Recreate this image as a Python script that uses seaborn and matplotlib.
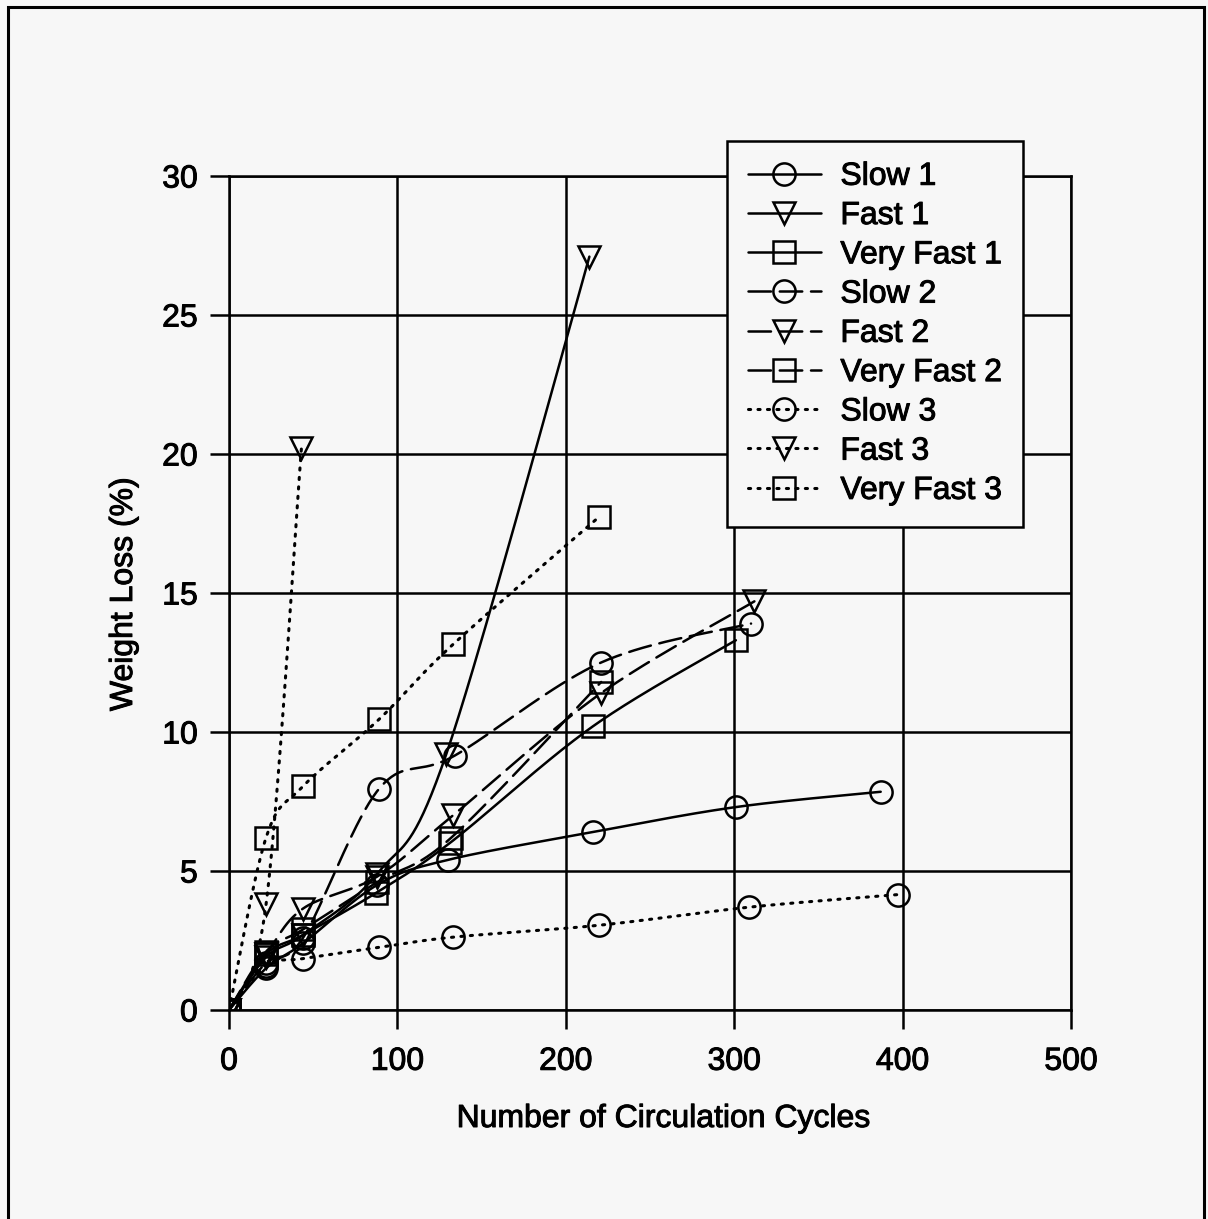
import numpy as np
import matplotlib
matplotlib.use("Agg")
import matplotlib.pyplot as plt
import matplotlib.patheffects as pe
from matplotlib.lines import Line2D
from matplotlib.patches import Rectangle
import seaborn as sns

# ---- data: weight loss (%) against number of circulation cycles ----
slow1_x = [0, 22, 44, 88, 130, 216, 301, 387]
slow1_y = [0, 1.5, 2.4, 4.5, 5.4, 6.4, 7.3, 7.85]

fast1_x = [0, 22, 44, 88, 129, 214]
fast1_y = [0, 1.9, 2.7, 4.9, 9.2, 27.1]

vfast1_x = [0, 22, 44, 87, 131, 216, 301]
vfast1_y = [0, 2.0, 2.7, 4.2, 6.0, 10.2, 13.3]

slow2_x = [0, 22, 44, 89, 134, 221, 310]
slow2_y = [0, 1.7, 2.6, 7.95, 9.15, 12.5, 13.9]

fast2_x = [0, 22, 44, 88, 133, 221, 312]
fast2_y = [0, 2.0, 3.65, 4.8, 7.0, 11.4, 14.7]

vfast2_x = [0, 22, 44, 88, 132, 221]
vfast2_y = [0, 2.1, 2.9, 4.6, 6.2, 11.8]

slow3_x = [0, 22, 44, 89, 133, 220, 309, 397]
slow3_y = [0, 1.6, 1.85, 2.25, 2.62, 3.05, 3.7, 4.15]

fast3_x = [0, 22, 43]
fast3_y = [0, 3.8, 20.2]

vfast3_x = [0, 22, 44, 89, 133, 220]
vfast3_y = [0, 6.2, 8.05, 10.45, 13.15, 17.75]

labels = ["Slow 1", "Fast 1", "Very Fast 1",
          "Slow 2", "Fast 2", "Very Fast 2",
          "Slow 3", "Fast 3", "Very Fast 3"]
xs = [slow1_x, fast1_x, vfast1_x, slow2_x, fast2_x, vfast2_x, slow3_x, fast3_x, vfast3_x]
ys = [slow1_y, fast1_y, vfast1_y, slow2_y, fast2_y, vfast2_y, slow3_y, fast3_y, vfast3_y]
markers = ["o", "v", "s"] * 3

SOLID = "-"
DASHED = (0, (9, 3.5))
DOTTED = (0, (0.7, 2.4))
styles = [SOLID] * 3 + [DASHED] * 3 + [DOTTED] * 3

x_ticks = [0, 100, 200, 300, 400, 500]
y_ticks = [0, 5, 10, 15, 20, 25, 30]


def smooth(x, y, n=40):
    """Bezier smoothing through every point (1/6 tangent factor)."""
    p = np.column_stack([x, y]).astype(float)
    if len(p) < 3:
        return p[:, 0], p[:, 1]
    ext = np.vstack([p[0], p, p[-1]])
    out = []
    t = np.linspace(0, 1, n)[:, None]
    for i in range(len(p) - 1):
        p0, p1, p2, p3 = ext[i], ext[i + 1], ext[i + 2], ext[i + 3]
        c1 = p1 + (p2 - p0) / 6.0
        c2 = p2 - (p3 - p1) / 6.0
        seg = ((1 - t) ** 3) * p1 + 3 * ((1 - t) ** 2) * t * c1 \
            + 3 * (1 - t) * t ** 2 * c2 + t ** 3 * p2
        out.append(seg if i == 0 else seg[1:])
    out = np.vstack(out)
    return out[:, 0], out[:, 1]


sns.set_theme(style="white")
BG = "#f7f7f7"
plt.rcParams["font.family"] = ["Liberation Sans", "DejaVu Sans"]
plt.rcParams["text.color"] = "black"

fig = plt.figure(figsize=(12.08, 12.19), dpi=100, facecolor=BG)
ax = fig.add_axes([229 / 1208, 1 - 1010 / 1219, 842 / 1208, 834 / 1219])
ax.set_facecolor(BG)

MS = 16
MEW = 1.8
LW = 1.8

handles = []
for lab, x, y, m, ls in zip(labels, xs, ys, markers, styles):
    sx, sy = smooth(x, y)
    lw = 2.2 if ls is DOTTED else LW
    sns.lineplot(x=sx, y=sy, ax=ax, color="black", linewidth=lw,
                 linestyle=ls, sort=False, estimator=None,
                 dash_capstyle="round", zorder=3)
    sns.lineplot(x=x, y=y, ax=ax, color="black", linestyle="",
                 marker=m, markersize=MS, markerfacecolor="none",
                 markeredgecolor="black", markeredgewidth=MEW,
                 sort=False, estimator=None, zorder=4)
    handles.append(Line2D([], [], color="black", linewidth=lw, linestyle=ls,
                          marker=m, markersize=MS, markerfacecolor="none",
                          markeredgecolor="black", markeredgewidth=MEW,
                          dash_capstyle="round"))

ax.set_xlim(0, 500)
ax.set_ylim(0, 30)
ax.set_xticks(x_ticks)
ax.set_yticks(y_ticks)
ax.grid(True, color="black", linewidth=1.8)
ax.set_axisbelow(True)
for s in ax.spines.values():
    s.set_color("black")
    s.set_linewidth(1.8)
ax.tick_params(axis="both", direction="out", length=13.5, width=1.8,
               color="black", labelsize=23, labelcolor="black", pad=9,
               bottom=True, left=True)
ax.tick_params(axis="x", pad=13)

ax.set_xlabel("Number of Circulation Cycles", fontsize=23, color="black")
ax.set_ylabel("Weight Loss (%)", fontsize=23, color="black")
ax.xaxis.set_label_coords((664 - 229) / 842, (1010 - 1104) / 834)
ax.yaxis.set_label_coords((139 - 229) / 842, (1010 - 594) / 834)

leg = ax.legend(handles, labels, loc="upper left",
                bbox_to_anchor=((727 - 229) / 842, (1010 - 141) / 834),
                borderaxespad=0, frameon=True, fancybox=False,
                fontsize=23, handlelength=2.3, handletextpad=0.6,
                labelspacing=0.29, borderpad=0.65)
leg.get_frame().set_edgecolor("black")
leg.get_frame().set_linewidth(1.8)
leg.get_frame().set_facecolor(BG)
leg.get_frame().set_alpha(1)
leg.set_zorder(10)

# slightly heavier lettering
heavy = [pe.withStroke(linewidth=0.7, foreground="black")]
texts = (ax.get_xticklabels() + ax.get_yticklabels()
         + [ax.xaxis.label, ax.yaxis.label] + leg.get_texts())
for t in texts:
    t.set_path_effects(heavy)

# outer border of the chart area
fig.patches.append(Rectangle((8 / 1208, -0.02), (1204 - 8) / 1208, 1.02 - 7 / 1219,
                             transform=fig.transFigure, fill=False,
                             edgecolor="black", linewidth=2.2))

fig.savefig("out.png", dpi=100, facecolor=BG)
